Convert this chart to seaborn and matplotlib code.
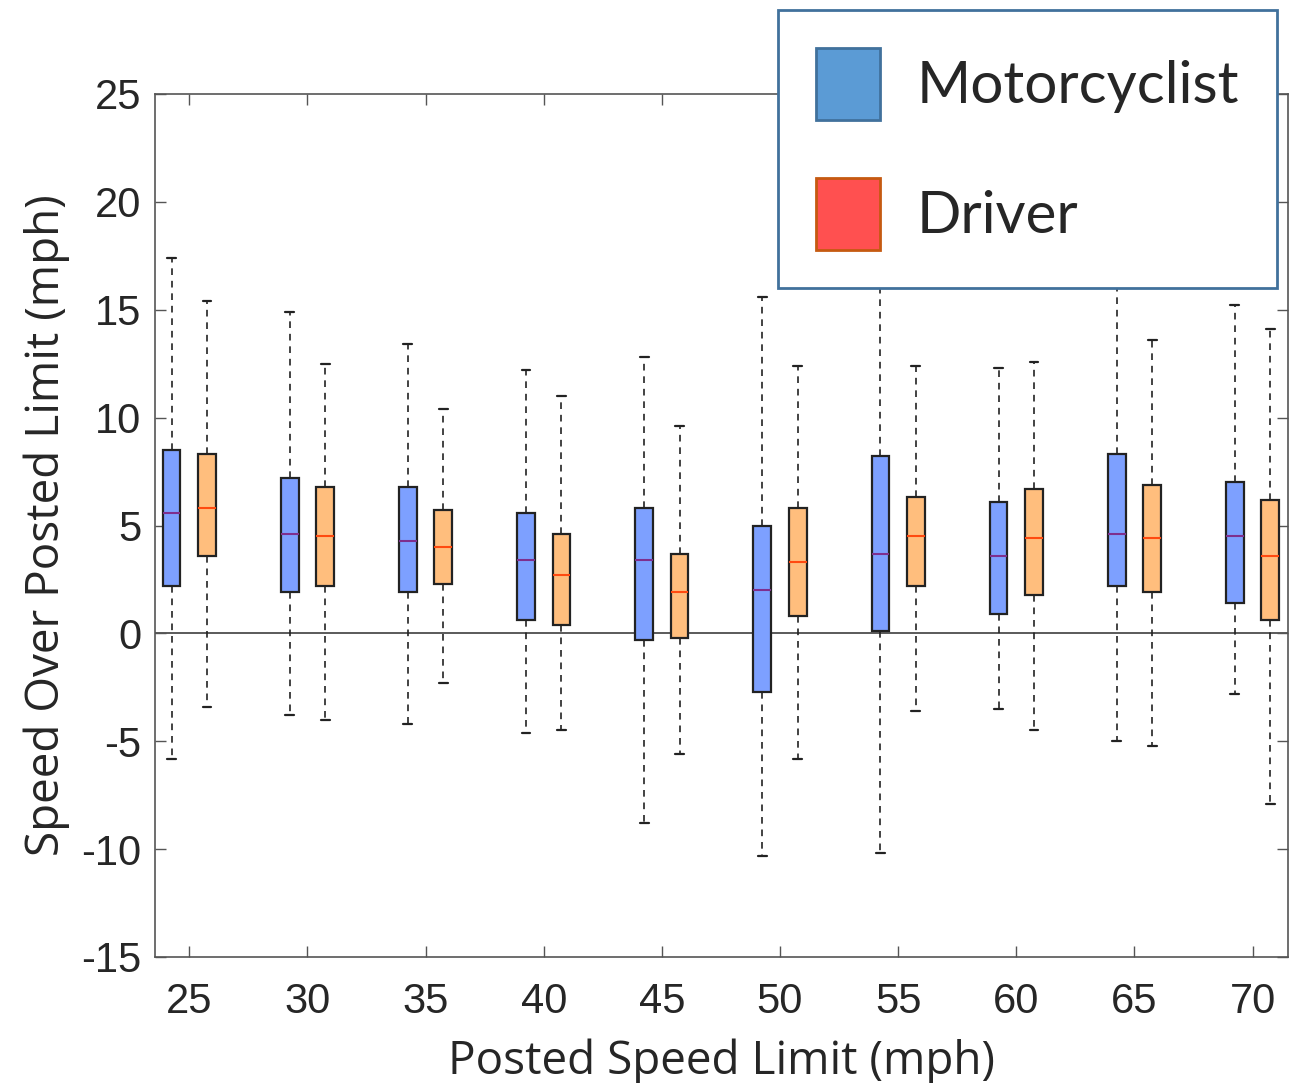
import numpy as np
import pandas as pd
import seaborn as sns
import matplotlib
matplotlib.use("Agg")
from matplotlib import pyplot as plt
import matplotlib.patches as mpatches

# posted speed limits (mph)
limits = [25, 30, 35, 40, 45, 50, 55, 60, 65, 70]

# box stats: lower whisker, q1, median, q3, upper whisker
moto_lo  = [-5.8, -3.8, -4.2, -4.6, -8.8, -10.3, -10.2, -3.5, -5.0, -2.8]
moto_q1  = [2.2, 1.9, 1.9, 0.6, -0.3, -2.7, 0.1, 0.9, 2.2, 1.4]
moto_med = [5.6, 4.6, 4.3, 3.4, 3.4, 2.0, 3.7, 3.6, 4.6, 4.5]
moto_q3  = [8.5, 7.2, 6.8, 5.6, 5.8, 5.0, 8.2, 6.1, 8.3, 7.0]
moto_hi  = [17.4, 14.9, 13.4, 12.2, 12.8, 15.6, 19.0, 12.3, 18.0, 15.2]

drv_lo  = [-3.4, -4.0, -2.3, -4.5, -5.6, -5.8, -3.6, -4.5, -5.2, -7.9]
drv_q1  = [3.6, 2.2, 2.3, 0.4, -0.2, 0.8, 2.2, 1.8, 1.9, 0.6]
drv_med = [5.8, 4.5, 4.0, 2.7, 1.9, 3.3, 4.5, 4.4, 4.4, 3.6]
drv_q3  = [8.3, 6.8, 5.7, 4.6, 3.7, 5.8, 6.3, 6.7, 6.9, 6.2]
drv_hi  = [15.4, 12.5, 10.4, 11.0, 9.6, 12.4, 12.4, 12.6, 13.6, 14.1]

groups = ["Motorcyclist", "Driver"]

# five points per box -> quartiles land exactly on the read values
rows = []
for i, lim in enumerate(limits):
    for v in [moto_lo[i], moto_q1[i], moto_med[i], moto_q3[i], moto_hi[i]]:
        rows.append((lim, "Motorcyclist", v))
    for v in [drv_lo[i], drv_q1[i], drv_med[i], drv_q3[i], drv_hi[i]]:
        rows.append((lim, "Driver", v))
d = pd.DataFrame(rows, columns=["limit", "group", "speed"])

sns.set_style("ticks")
plt.rcParams["axes.unicode_minus"] = False

fig = plt.figure(figsize=(12.96, 10.83), dpi=100)
ax = fig.add_axes([155/1296, 1-957/1083, (1288-155)/1296, (957-94)/1083])

ax.axhline(0, color="#4d4d4d", lw=1.3, zorder=0)

sns.boxplot(data=d, x="limit", y="speed", hue="group", hue_order=groups,
            palette=["#7DA0FF", "#FFBE7D"], saturation=1,
            whis=(0, 100), width=0.6, gap=0.5,
            showfliers=False, linecolor="#222222", linewidth=1.6,
            whiskerprops={"linestyle": (0, (4, 3.5)), "linewidth": 1.2},
            legend=False, ax=ax)

# median colours per group
for cont, mc in zip(ax.containers, ["#7E2F8E", "#FF4A10"]):
    for m in cont.medians:
        m.set_color(mc)
        m.set_linewidth(1.5)

ax.set_xlim(-0.29, 9.30)
ax.set_ylim(-15, 25)
ax.set_yticks(range(-15, 26, 5))
ax.set_xticks(range(len(limits)))
ax.set_xticklabels([str(l) for l in limits])

for s in ax.spines.values():
    s.set_visible(True)
    s.set_color("#555555")
    s.set_linewidth(1.2)

ax.tick_params(direction="in", length=8, width=1, color="#555555",
               top=True, right=True, labelsize=30, labelcolor="#262626")
ax.tick_params(axis="x", pad=18)
ax.tick_params(axis="y", pad=10)
for lab in ax.get_xticklabels() + ax.get_yticklabels():
    lab.set_family("Liberation Sans")

ax.set_xlabel("Posted Speed Limit (mph)", fontsize=33, family="Open Sans",
              color="#262626", labelpad=12)
ax.set_ylabel("Speed Over Posted Limit (mph)", fontsize=33, family="Open Sans",
              color="#262626", labelpad=8)

handles = [mpatches.Patch(facecolor="#5B9BD5", edgecolor="#41719C", lw=2),
           mpatches.Patch(facecolor="#FF5050", edgecolor="#C55A11", lw=2)]
leg = fig.legend(handles, groups, loc="upper right",
                 bbox_to_anchor=(1277/1296, 1-10/1083), borderaxespad=0,
                 fancybox=False, framealpha=1, edgecolor="#41719C",
                 prop={"family": "Lato", "size": 42},
                 handlelength=1.1, handleheight=1.52, handletextpad=0.62,
                 labelspacing=1.0, borderpad=0.65)
leg.get_frame().set_linewidth(2)

fig.savefig("out.png", dpi=100)
